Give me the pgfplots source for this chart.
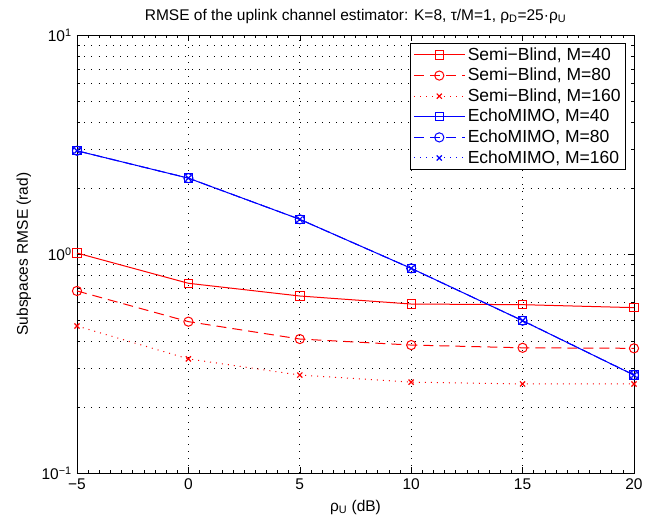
\documentclass[border=0pt]{standalone}
\usepackage{fontspec}
\setmainfont{Liberation Sans}
\usepackage{pgfplots}
\pgfplotsset{compat=1.18}
\newcommand{\lf}{\fontsize{17.5}{20}\selectfont}
\begin{document}
\fontsize{15.5}{18}\selectfont
\begin{tikzpicture}
\begin{axis}[
    scale only axis,
    width=557pt,
    height=438pt,
    ymode=log,
    xmin=-5, xmax=20,
    ymin=0.1, ymax=10,
    xtick={-5,0,5,10,15,20},
    xticklabels={−5,0,5,10,15,20},
    ytick={0.1,1,10},
    yticklabels={10\textsuperscript{−1},10\textsuperscript{0},10\textsuperscript{1}},
    minor xtick={-4.5,-4,...,19.5},
    minor ytick={0.2,0.3,0.4,0.5,0.6,0.7,0.8,0.9,2,3,4,5,6,7,8,9},
    xmajorgrids, ymajorgrids, yminorgrids,
    grid style={black, line width=0.7pt, dash pattern=on 0.7pt off 6.5pt},
    minor grid style={black, line width=0.7pt, dash pattern=on 0.7pt off 6.5pt},
    tick align=inside,
    major tick length=6pt,
    minor tick length=3pt,
    tick style={black, line width=0.6pt},
    axis line style={line width=0.9pt},
    title={RMSE of the uplink channel estimator: K=8, τ/M=1, ρ\textsubscript{D}=25·ρ\textsubscript{U}},
    xlabel={ρ\textsubscript{U} (dB)},
    ylabel={Subspaces RMSE (rad)},
    legend style={at={(0.9856,0.9817)}, anchor=north east, draw=black,
        line width=0.9pt, fill=white, inner xsep=3pt, inner ysep=2pt, row sep=1.6pt,
        cells={anchor=west}},
    legend image code/.code={\draw[mark repeat=2,mark phase=2]
        plot coordinates {(0pt,0pt)(25pt,0pt)(51pt,0pt)};},
]

\addplot[red, line width=1pt, mark=square, mark size=4.2pt, mark options={solid}] coordinates {
    (-5,1.01) (0,0.735) (5,0.643) (10,0.591) (15,0.587) (20,0.569)
};
\addlegendentry{\lf Semi−Blind, M=40}

\addplot[red, line width=1pt, dash pattern=on 10pt off 6pt, mark=o, mark size=4.6pt, mark options={solid}] coordinates {
    (-5,0.678) (0,0.491) (5,0.409) (10,0.384) (15,0.373) (20,0.371)
};
\addlegendentry{\lf Semi−Blind, M=80}

\addplot[red, line width=1pt, dash pattern=on 1pt off 5pt, mark=x, mark size=3.6pt, mark options={solid, line width=1.2pt}] coordinates {
    (-5,0.469) (0,0.332) (5,0.280) (10,0.260) (15,0.255) (20,0.255)
};
\addlegendentry{\lf Semi−Blind, M=160}

\addplot[blue, line width=1pt, mark=square, mark size=4.2pt, mark options={solid}] coordinates {
    (-5,2.96) (0,2.22) (5,1.44) (10,0.86) (15,0.496) (20,0.28)
};
\addlegendentry{\lf EchoMIMO, M=40}

\addplot[blue, line width=1pt, dash pattern=on 10pt off 6pt, mark=o, mark size=4.6pt, mark options={solid}] coordinates {
    (-5,2.96) (0,2.22) (5,1.44) (10,0.86) (15,0.496) (20,0.28)
};
\addlegendentry{\lf EchoMIMO, M=80}

\addplot[blue, line width=1pt, dash pattern=on 1pt off 5pt, mark=x, mark size=3.6pt, mark options={solid, line width=1.2pt}] coordinates {
    (-5,2.96) (0,2.22) (5,1.44) (10,0.86) (15,0.496) (20,0.28)
};
\addlegendentry{\lf EchoMIMO, M=160}

\end{axis}
\pgfresetboundingbox
\path (-77pt,-52pt) rectangle (588pt,473pt);
\end{tikzpicture}
\end{document}
